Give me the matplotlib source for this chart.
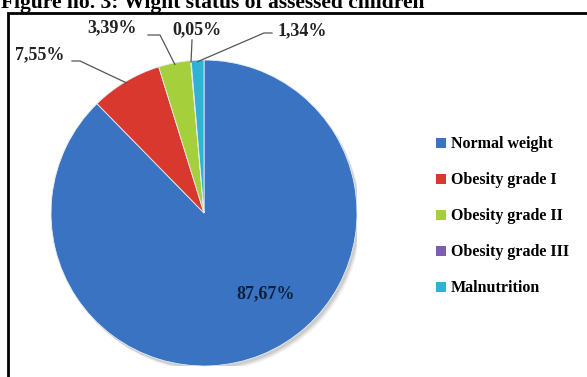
import matplotlib
matplotlib.use("Agg")
import matplotlib.pyplot as plt
import numpy as np
from matplotlib.patches import Rectangle, Patch, Circle

categories = ["Normal weight", "Obesity grade I", "Obesity grade II",
              "Obesity grade III", "Malnutrition"]
values = [87.67, 7.55, 3.39, 0.05, 1.34]
labels = ["87,67%", "7,55%", "3,39%", "0,05%", "1,34%"]
colors = ["#3a73c2", "#d9382f", "#a6cf3c", "#7b5fae", "#2fb3d5"]
title = "Figure no. 3: Wight status of assessed children"

W, H = 587, 377
fig = plt.figure(figsize=(W / 100, H / 100), dpi=100)
fig.patch.set_facecolor("white")
serif = ["Liberation Serif", "DejaVu Serif"]

def fx(px):
    return px / W

def fy(py):
    return 1 - py / H

# frame
fig.patches.append(Rectangle((fx(8), fy(430)), 1.2, fy(13) - fy(430),
                             transform=fig.transFigure, fill=False,
                             edgecolor="black", linewidth=2, zorder=0))

fig.text(fx(1), fy(8), title, fontsize=15.5, fontweight="bold",
         family=serif, ha="left", va="baseline")

cx, cy, r = 204, 213, 153
ax = fig.add_axes([fx(cx - r), fy(cy + r), fx(2 * r), (2 * r) / H])
# soft shadow
for k, a in [(4, 0.05), (3, 0.07), (2, 0.09)]:
    ax.add_patch(Circle((k / r, -1.3 * k / r), 1.0, facecolor="black",
                        alpha=a, edgecolor="none", zorder=0))
wedges, _ = ax.pie(values, colors=colors, startangle=90, counterclock=False,
                   radius=1.0, wedgeprops=dict(edgecolor="#e8eef5", linewidth=0.6))
ax.set_xlim(-1, 1)
ax.set_ylim(-1, 1)
ax.set_clip_on(False)
ax.axis("off")

# label positions (figure pixels) and leader elbows
text_pos = [(266, 294), (40, 55), (112, 28), (197, 30), (302, 31)]
elbows = [None, (80, 61), (160, 35), (192, 40), (264, 33)]
starts = [None, (72, 61), (148, 35), (192, 40), (272, 33)]

for i, w in enumerate(wedges):
    tx, ty = text_pos[i]
    fig.text(fx(tx), fy(ty), labels[i], fontsize=13, fontweight="bold",
             family=serif, ha="center", va="center",
             color="#222222" if i else "#0d1f3c")
    if elbows[i] is None:
        continue
    ang = np.deg2rad((w.theta1 + w.theta2) / 2)
    px = cx + r * 0.99 * np.cos(ang)
    py = cy - r * 0.99 * np.sin(ang)
    sx, sy = starts[i]
    ex, ey = elbows[i]
    fig.lines.append(plt.Line2D([fx(sx), fx(ex), fx(px)], [fy(sy), fy(ey), fy(py)],
                                transform=fig.transFigure, color="#555555",
                                linewidth=0.9))

handles = [Patch(facecolor=c, edgecolor="none") for c in colors]
leg = fig.legend(handles, categories, loc="upper left",
                 bbox_to_anchor=(fx(422), fy(122)), frameon=False,
                 prop=dict(family=serif, weight="bold", size=11.5),
                 handlelength=0.6, handleheight=0.6, handletextpad=0.3,
                 labelspacing=1.25)

fig.savefig("out.png", dpi=100, facecolor="white")
